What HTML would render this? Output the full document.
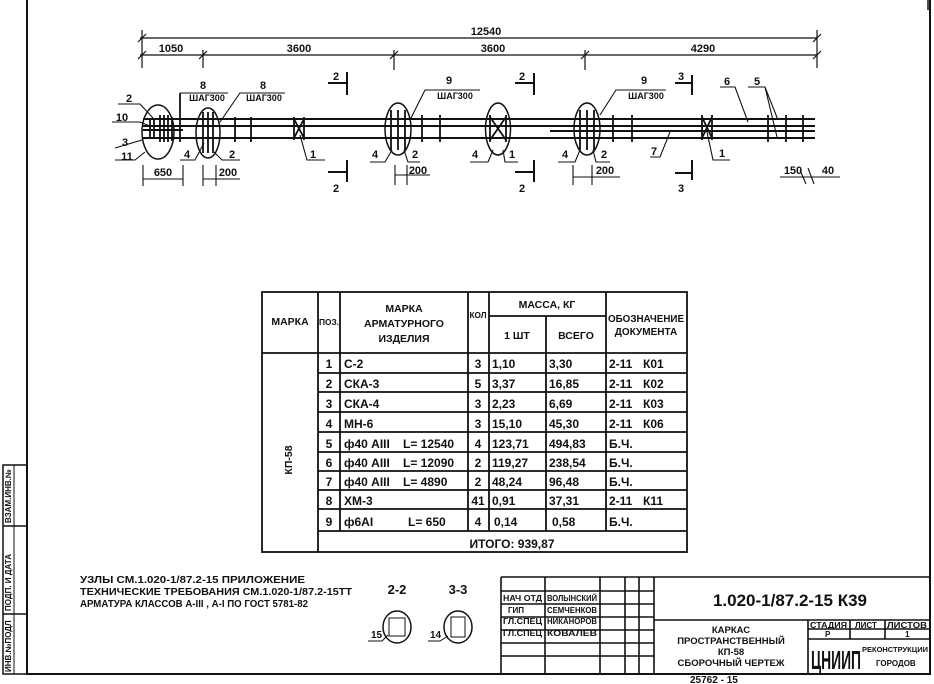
<!DOCTYPE html>
<html><head><meta charset="utf-8"><style>
html,body{margin:0;padding:0;background:#fff;}
svg{display:block;}
text{font-family:"Liberation Sans Narrow","Liberation Sans",sans-serif;font-weight:bold;fill:#111;}
</style></head><body>
<svg width="934" height="684" viewBox="0 0 934 684" xmlns="http://www.w3.org/2000/svg" stroke="#111" fill="none">
<path d="M27 0 V674 H930 V0" stroke-width="2"/>
<path d="M928 0 V10" stroke-width="1.5"/>
<rect x="3" y="465" width="24" height="209" stroke-width="1.5"/>
<line x1="3" y1="526" x2="27" y2="526" stroke-width="1.5"/>
<line x1="3" y1="614" x2="27" y2="614" stroke-width="1.5"/>
<line x1="14" y1="465" x2="14" y2="674" stroke-width="1"/>
<g stroke="none" font-size="8">
<text transform="translate(11,523) rotate(-90)">ВЗАМ.ИНВ.№</text>
<text transform="translate(11,611) rotate(-90)">ПОДП. И ДАТА</text>
<text transform="translate(11,672) rotate(-90)">ИНВ.№ПОДЛ</text>
</g>

<g stroke-width="1.2">
<line x1="140" y1="38" x2="817" y2="38"/>
<line x1="140" y1="55" x2="817" y2="55"/>
<line x1="142" y1="30" x2="142" y2="68"/>
<line x1="817" y1="30" x2="817" y2="68"/>
<line x1="203" y1="50" x2="203" y2="68"/>
<line x1="394" y1="50" x2="394" y2="70"/>
<line x1="585" y1="50" x2="585" y2="70"/>
<path d="M138 42 L146 34 M138 59 L146 51 M199 59 L207 51 M390 59 L398 51 M581 59 L589 51 M813 42 L821 34 M813 59 L821 51"/>
</g>
<g stroke="none" font-size="11" text-anchor="middle">
<text x="486" y="35">12540</text>
<text x="171" y="52">1050</text>
<text x="299" y="52">3600</text>
<text x="493" y="52">3600</text>
<text x="703" y="52">4290</text>
</g>

<g stroke-width="2">
<line x1="143" y1="119" x2="815" y2="119"/>
<line x1="143" y1="126" x2="815" y2="126"/>
<line x1="143" y1="138" x2="815" y2="138"/>
<line x1="143" y1="130" x2="183" y2="130"/>
<line x1="550" y1="131" x2="815" y2="131"/>
</g>
<g stroke-width="1.5">
<ellipse cx="158" cy="132" rx="16" ry="27"/>
<ellipse cx="208" cy="133" rx="12" ry="25"/>
<ellipse cx="398" cy="129" rx="13" ry="26"/>
<ellipse cx="498" cy="129" rx="12.5" ry="26"/>
<ellipse cx="587" cy="129" rx="13" ry="26"/>
</g>
<g stroke-width="1.8">
<path d="M160 115 V142 M164 115 V142 M168 115 V142 M172 117 V141 M150 120 V138 M154 120 V138"/>
<path d="M180 93 V142"/>
<path d="M203 112 V153 M208 112 V153 M213 112 V153"/>
<path d="M235 117 V142 M251 117 V142"/>
<path d="M294 117 V140 M304 117 V140 M294 119 L304 138 M304 119 L294 138"/>
<path d="M391 110 V150 M398 110 V150 M405 110 V150"/>
<path d="M422 115 V142 M440 115 V142"/>
<path d="M490 115 V142 M506 115 V142 M490 117 L506 140 M506 117 L490 140"/>
<path d="M580 110 V150 M587 110 V150 M594 110 V150"/>
<path d="M613 115 V142 M632 115 V142"/>
<path d="M702 115 V140 M712 115 V140 M702 117 L712 138 M712 117 L702 138"/>
<path d="M768 115 V142 M786 115 V142 M803 115 V142"/>
</g>
<g stroke-width="1.1">
<path d="M118 104 H140 L153 118"/>
<path d="M112 122 H140 L150 126"/>
<path d="M115 148 L142 140"/>
<path d="M115 160 H135 L145 152"/>
<path d="M180 93 H228"/>
<path d="M285 93 H240 L220 122"/>
<path d="M180 160 H195 L204 143"/>
<path d="M240 160 H222 L214 152"/>
<path d="M300 135 L307 160 H325"/>
<path d="M143 165 V186 M183 165 V186 M143 179 H183"/>
<path d="M203 165 V186 M216 165 V186 M203 179 H240"/>
<path d="M480 90 H425 L410 120"/>
<path d="M470 162 H488 L493 150"/>
<path d="M518 162 H505 L503 150"/>
<path d="M370 162 H385 L392 150"/>
<path d="M420 162 H408 L404 150"/>
<path d="M395 165 V185 M407 165 V185 M395 175 H430"/>
<path d="M666 90 H616 L600 115"/>
<path d="M558 162 H575 L580 150"/>
<path d="M610 162 H596 L593 150"/>
<path d="M573 165 V185 M592 165 V185 M573 177 H620"/>
<path d="M720 87 H735 L748 122"/>
<path d="M748 87 H765 L778 120 M765 87 L777 137"/>
<path d="M650 157 H660 L670 132"/>
<path d="M707 132 L713 160 H730"/>
<path d="M780 177 H840 M800 170 L806 184 M808 168 L814 184"/>
</g>
<g stroke-width="2">
<path d="M347 72 V95 M328 83 H347"/>
<path d="M347 160 V182 M328 172 H347"/>
<path d="M534 73 V95 M515 83 H534"/>
<path d="M534 160 V182 M515 172 H534"/>
<path d="M692 75 V95 M675 83 H692"/>
<path d="M692 160 V180 M675 173 H692"/>
</g>
<g stroke="none" font-size="11" text-anchor="middle">
<text x="336" y="80">2</text><text x="336" y="192">2</text>
<text x="522" y="80">2</text><text x="522" y="192">2</text>
<text x="681" y="80">3</text><text x="681" y="192">3</text>
<text x="129" y="102">2</text><text x="122" y="121">10</text>
<text x="125" y="146">3</text><text x="127" y="160">11</text>
<text x="203" y="89">8</text><text x="207" y="101" font-size="9">ШАГ300</text>
<text x="263" y="89">8</text><text x="264" y="101" font-size="9">ШАГ300</text>
<text x="187" y="158">4</text><text x="232" y="158">2</text>
<text x="313" y="158">1</text>
<text x="163" y="176">650</text><text x="228" y="176">200</text>
<text x="449" y="84">9</text><text x="455" y="99" font-size="9">ШАГ300</text>
<text x="375" y="158">4</text><text x="415" y="158">2</text>
<text x="418" y="174">200</text>
<text x="475" y="158">4</text><text x="512" y="158">1</text>
<text x="644" y="84">9</text><text x="646" y="99" font-size="9">ШАГ300</text>
<text x="565" y="158">4</text><text x="604" y="158">2</text>
<text x="605" y="174">200</text>
<text x="727" y="85">6</text><text x="757" y="85">5</text>
<text x="654" y="155">7</text><text x="722" y="157">1</text>
<text x="793" y="174">150</text><text x="828" y="174">40</text>
</g>

<g stroke-width="1.8">
<rect x="262" y="292" width="425" height="260"/>
<line x1="318" y1="292" x2="318" y2="552"/>
<line x1="340" y1="292" x2="340" y2="531"/>
<line x1="468" y1="292" x2="468" y2="531"/>
<line x1="489" y1="292" x2="489" y2="531"/>
<line x1="546" y1="316" x2="546" y2="531"/>
<line x1="606" y1="292" x2="606" y2="531"/>
<line x1="489" y1="316" x2="606" y2="316"/>
<line x1="262" y1="353" x2="687" y2="353"/>
<path d="M318 373 H687 M318 392 H687 M318 412 H687 M318 432 H687 M318 452 H687 M318 471 H687 M318 490 H687 M318 509 H687 M318 531 H687"/>
</g>
<g stroke="none" font-size="10.5" text-anchor="middle">
<text x="290" y="325">МАРКА</text>
<text x="329" y="325" font-size="8" textLength="20" lengthAdjust="spacingAndGlyphs">ПОЗ.</text>
<text x="404" y="312">МАРКА</text>
<text x="404" y="327">АРМАТУРНОГО</text>
<text x="404" y="342">ИЗДЕЛИЯ</text>
<text x="478" y="318" font-size="8" textLength="17" lengthAdjust="spacingAndGlyphs">КОЛ</text>
<text x="547" y="308">МАССА, КГ</text>
<text x="517" y="339">1 ШТ</text>
<text x="576" y="339">ВСЕГО</text>
<text x="646" y="322" font-size="10" textLength="76" lengthAdjust="spacingAndGlyphs">ОБОЗНАЧЕНИЕ</text>
<text x="646" y="335" font-size="10">ДОКУМЕНТА</text>
<text transform="translate(292,460) rotate(-90)">КП-58</text>
<text x="512" y="548" font-size="12">ИТОГО: 939,87</text>
</g>
<g stroke="none" font-size="12">
<g text-anchor="middle">
<text x="329" y="368">1</text><text x="329" y="388">2</text><text x="329" y="408">3</text><text x="329" y="428">4</text><text x="329" y="448">5</text><text x="329" y="467">6</text><text x="329" y="486">7</text><text x="329" y="505">8</text><text x="329" y="526">9</text>
<text x="478" y="368">3</text><text x="478" y="388">5</text><text x="478" y="408">3</text><text x="478" y="428">3</text><text x="478" y="448">4</text><text x="478" y="467">2</text><text x="478" y="486">2</text><text x="478" y="505">41</text><text x="478" y="526">4</text>
</g>
<text x="344" y="368">С-2</text><text x="344" y="388">СКА-3</text><text x="344" y="408">СКА-4</text><text x="344" y="428">МН-6</text>
<text x="344" y="448">ф40 АIII</text><text x="403" y="448">L= 12540</text>
<text x="344" y="467">ф40 АIII</text><text x="403" y="467">L= 12090</text>
<text x="344" y="486">ф40 АIII</text><text x="403" y="486">L= 4890</text>
<text x="344" y="505">ХМ-3</text><text x="344" y="526">ф6АI</text><text x="408" y="526">L= 650</text>
<text x="492" y="368">1,10</text><text x="492" y="388">3,37</text><text x="492" y="408">2,23</text><text x="492" y="428">15,10</text><text x="492" y="448">123,71</text><text x="492" y="467">119,27</text><text x="492" y="486">48,24</text><text x="492" y="505">0,91</text><text x="494" y="526">0,14</text>
<text x="549" y="368">3,30</text><text x="549" y="388">16,85</text><text x="549" y="408">6,69</text><text x="549" y="428">45,30</text><text x="549" y="448">494,83</text><text x="549" y="467">238,54</text><text x="549" y="486">96,48</text><text x="549" y="505">37,31</text><text x="552" y="526">0,58</text>
<text x="609" y="368">2-11</text><text x="643" y="368">К01</text>
<text x="609" y="388">2-11</text><text x="643" y="388">К02</text>
<text x="609" y="408">2-11</text><text x="643" y="408">К03</text>
<text x="609" y="428">2-11</text><text x="643" y="428">К06</text>
<text x="609" y="448">Б.Ч.</text><text x="609" y="467">Б.Ч.</text><text x="609" y="486">Б.Ч.</text>
<text x="609" y="505">2-11</text><text x="643" y="505">К11</text>
<text x="609" y="526">Б.Ч.</text>
</g>

<g stroke="none" font-size="10">
<text x="80" y="583" textLength="225" lengthAdjust="spacingAndGlyphs">УЗЛЫ СМ.1.020-1/87.2-15 ПРИЛОЖЕНИЕ</text>
<text x="80" y="595" textLength="272" lengthAdjust="spacingAndGlyphs">ТЕХНИЧЕСКИЕ ТРЕБОВАНИЯ СМ.1.020-1/87.2-15ТТ</text>
<text x="80" y="607" textLength="228" lengthAdjust="spacingAndGlyphs">АРМАТУРА КЛАССОВ А-III , А-I ПО ГОСТ 5781-82</text>
<text x="397" y="594" font-size="13" text-anchor="middle">2-2</text>
<text x="458" y="594" font-size="13" text-anchor="middle">3-3</text>
<text x="371" y="638">15</text><text x="430" y="638">14</text>
</g>
<g stroke-width="1.5">
<ellipse cx="397" cy="627" rx="14" ry="16"/>
<ellipse cx="458" cy="627" rx="14" ry="16"/>
<rect x="389" y="618" width="16" height="18" stroke-width="1"/>
<rect x="451" y="617" width="14" height="20" stroke-width="1"/>
<path d="M368 641 H382 L388 635 M428 641 H440 L448 636" stroke-width="1"/>
</g>

<g stroke-width="1.6">
<path d="M501 577 H930 M501 577 V674"/>
<path d="M501 591 H654 M501 604 H654 M501 617 H654 M501 630 H654 M501 643 H654 M501 656 H654"/>
<path d="M545 577 V674 M600 577 V674 M625 577 V674 M639 577 V674 M654 577 V674"/>
<path d="M654 620 H930 M808 629 H930 M808 639 H930"/>
<path d="M808 620 V674 M850 620 V639 M885 620 V639"/>
</g>
<g stroke="none" font-size="8">
<text x="503" y="601" textLength="39" lengthAdjust="spacingAndGlyphs">НАЧ ОТД</text><text x="547" y="601" textLength="50" lengthAdjust="spacingAndGlyphs">ВОЛЫНСКИЙ</text>
<text x="508" y="613">ГИП</text><text x="547" y="613" textLength="50" lengthAdjust="spacingAndGlyphs">СЕМЧЕНКОВ</text>
<text x="503" y="624" textLength="39" lengthAdjust="spacingAndGlyphs">ГЛ.СПЕЦ</text><text x="547" y="624" textLength="50" lengthAdjust="spacingAndGlyphs">НИКАНОРОВ</text>
<text x="503" y="636" textLength="39" lengthAdjust="spacingAndGlyphs">ГЛ.СПЕЦ</text><text x="547" y="636" textLength="50" lengthAdjust="spacingAndGlyphs">КОВАЛЕВ</text>
<text x="810" y="628" textLength="37" lengthAdjust="spacingAndGlyphs">СТАДИЯ</text><text x="855" y="628">ЛИСТ</text><text x="887" y="628" textLength="40" lengthAdjust="spacingAndGlyphs">ЛИСТОВ</text>
<text x="825" y="637">Р</text><text x="905" y="637">1</text>
<text x="862" y="652" font-size="7" textLength="66" lengthAdjust="spacingAndGlyphs">РЕКОНСТРУКЦИИ</text>
<text x="876" y="666" font-size="8">ГОРОДОВ</text>
</g>
<g stroke="none" text-anchor="middle">
<text x="790" y="606" font-size="17">1.020-1/87.2-15 К39</text>
<text x="731" y="633" font-size="9.5">КАРКАС</text>
<text x="731" y="644" font-size="9.5">ПРОСТРАНСТВЕННЫЙ</text>
<text x="731" y="655" font-size="9.5">КП-58</text>
<text x="731" y="666" font-size="9.5">СБОРОЧНЫЙ ЧЕРТЕЖ</text>
</g>
<text x="811" y="669" font-size="26" font-weight="normal" stroke="none" textLength="50" lengthAdjust="spacingAndGlyphs">ЦНИИП</text>
<text x="690" y="683" font-size="10" stroke="none">25762 - 15</text>
</svg>
</body></html>
